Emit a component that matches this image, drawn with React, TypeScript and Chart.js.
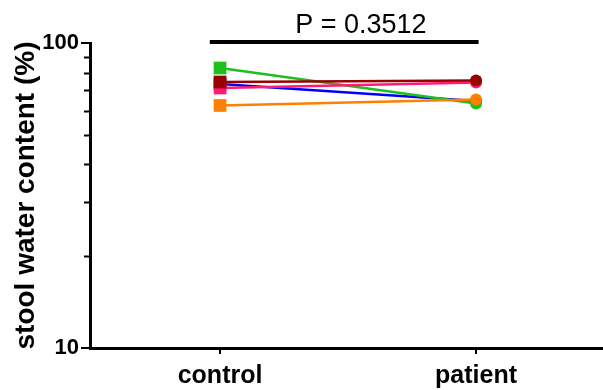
import React, { useEffect, useRef } from "react";
import { Chart, registerables } from "chart.js";

Chart.register(...registerables);

const groups = ["control", "patient"];
const seriesNames = ["orange", "darkred", "pink", "green", "blue"];
const seriesColors = ["#ff8000", "#990000", "#ff1a75", "#1ec01e", "#0000ff"];
const controlValues = [62.4, 74.5, 71.2, 82.8, 73.4];
const patientValues = [65.3, 75.4, 74.2, 63.3, 64.5];
const yTickValues = [10, 20, 30, 40, 50, 60, 70, 80, 90, 100];
const yLabelValues = [10, 100];
const pLabel = "P = 0.3512";

const annotationPlugin = {
  id: "pAnnotation",
  afterDraw(chart: any) {
    const { ctx, chartArea, scales } = chart;
    const x = scales.x;
    const y = scales.y;
    ctx.save();
    ctx.strokeStyle = "#000";
    ctx.lineWidth = 2;
    yTickValues
      .filter((v) => !yLabelValues.includes(v))
      .forEach((v) => {
        const py = Math.round(y.getPixelForValue(v)) + 0.5;
        ctx.beginPath();
        ctx.moveTo(chartArea.left - 6, py);
        ctx.lineTo(chartArea.left, py);
        ctx.stroke();
      });
    const y0 = chartArea.top - 1;
    ctx.lineWidth = 4;
    ctx.beginPath();
    ctx.moveTo(x.getPixelForValue(-0.04), y0);
    ctx.lineTo(x.getPixelForValue(1.01), y0);
    ctx.stroke();
    ctx.fillStyle = "#000";
    ctx.font = "27px 'Liberation Sans', Arial, sans-serif";
    ctx.textAlign = "center";
    ctx.textBaseline = "alphabetic";
    ctx.fillText(pLabel, x.getPixelForValue(0.55), y0 - 9);
    ctx.restore();
  },
};

export default function App() {
  const ref = useRef<HTMLCanvasElement | null>(null);
  useEffect(() => {
    if (!ref.current) return;
    const datasets = seriesNames.map((name, i) => ({
      label: name,
      data: [
        { x: 0, y: controlValues[i] },
        { x: 1, y: patientValues[i] },
      ],
      borderColor: seriesColors[i],
      backgroundColor: seriesColors[i],
      pointBackgroundColor: seriesColors[i],
      pointBorderColor: seriesColors[i],
      pointStyle: ["rect", "circle"],
      pointRadius: [9, 6],
      pointBorderWidth: 0,
      borderWidth: 2.5,
      showLine: true,
      fill: false,
      clip: false,
    }));
    const chart = new Chart(ref.current, {
      type: "line",
      data: { datasets },
      plugins: [annotationPlugin],
      options: {
        animation: false,
        responsive: false,
        events: [],
        layout: { autoPadding: false, padding: { top: 43, right: 0, left: 0, bottom: 0 } },
        plugins: { legend: { display: false }, tooltip: { enabled: false } },
        scales: {
          x: {
            type: "linear",
            min: -0.508,
            max: 1.496,
            afterBuildTicks: (s: any) => {
              s.ticks = [0, 1].map((v) => ({ value: v }));
            },
            afterFit: (s: any) => {
              s.height = 42;
              s.paddingLeft = 0;
              s.paddingRight = 0;
            },
            ticks: {
              callback: (v: any) => groups[v] ?? "",
              color: "#000",
              font: { family: "Arial, 'Liberation Sans', sans-serif", size: 25, weight: "bold" },
              padding: 7,
              maxRotation: 0,
              autoSkip: false,
            },
            grid: {
              drawOnChartArea: false,
              drawTicks: true,
              tickLength: 6,
              color: "#000",
              lineWidth: 2,
            },
            border: { display: true, color: "#000", width: 3 },
          },
          y: {
            type: "logarithmic",
            min: 10,
            max: 100,
            afterBuildTicks: (s: any) => {
              s.ticks = yTickValues.map((v) => ({ value: v }));
            },
            afterFit: (s: any) => {
              s.width = 90;
              s.paddingTop = 0;
              s.paddingBottom = 0;
            },
            ticks: {
              callback: (v: any) => (yLabelValues.includes(Number(v)) ? String(v) : ""),
              color: "#000",
              font: { family: "Arial, 'Liberation Sans', sans-serif", size: 22, weight: "bold" },
              padding: 2,
              autoSkip: false,
            },
            grid: {
              drawOnChartArea: false,
              drawTicks: true,
              tickLength: 9,
              color: "#000",
              tickColor: (ctx: any) =>
                ctx.tick && yLabelValues.includes(Number(ctx.tick.value)) ? "#000" : "rgba(0,0,0,0)",
              lineWidth: 2,
            },
            border: { display: true, color: "#000", width: 3 },
            title: {
              display: true,
              text: "stool water content (%)",
              color: "#000",
              font: { family: "Arial, 'Liberation Sans', sans-serif", size: 28, weight: "bold" },
              padding: { top: 9, bottom: 0 },
            },
          },
        },
      },
    });
    return () => chart.destroy();
  }, []);
  return (
    <div style={{ position: "absolute", left: 0, top: 0, width: 603, height: 390, background: "#fff" }}>
      <canvas ref={ref} width={603} height={390} />
    </div>
  );
}
